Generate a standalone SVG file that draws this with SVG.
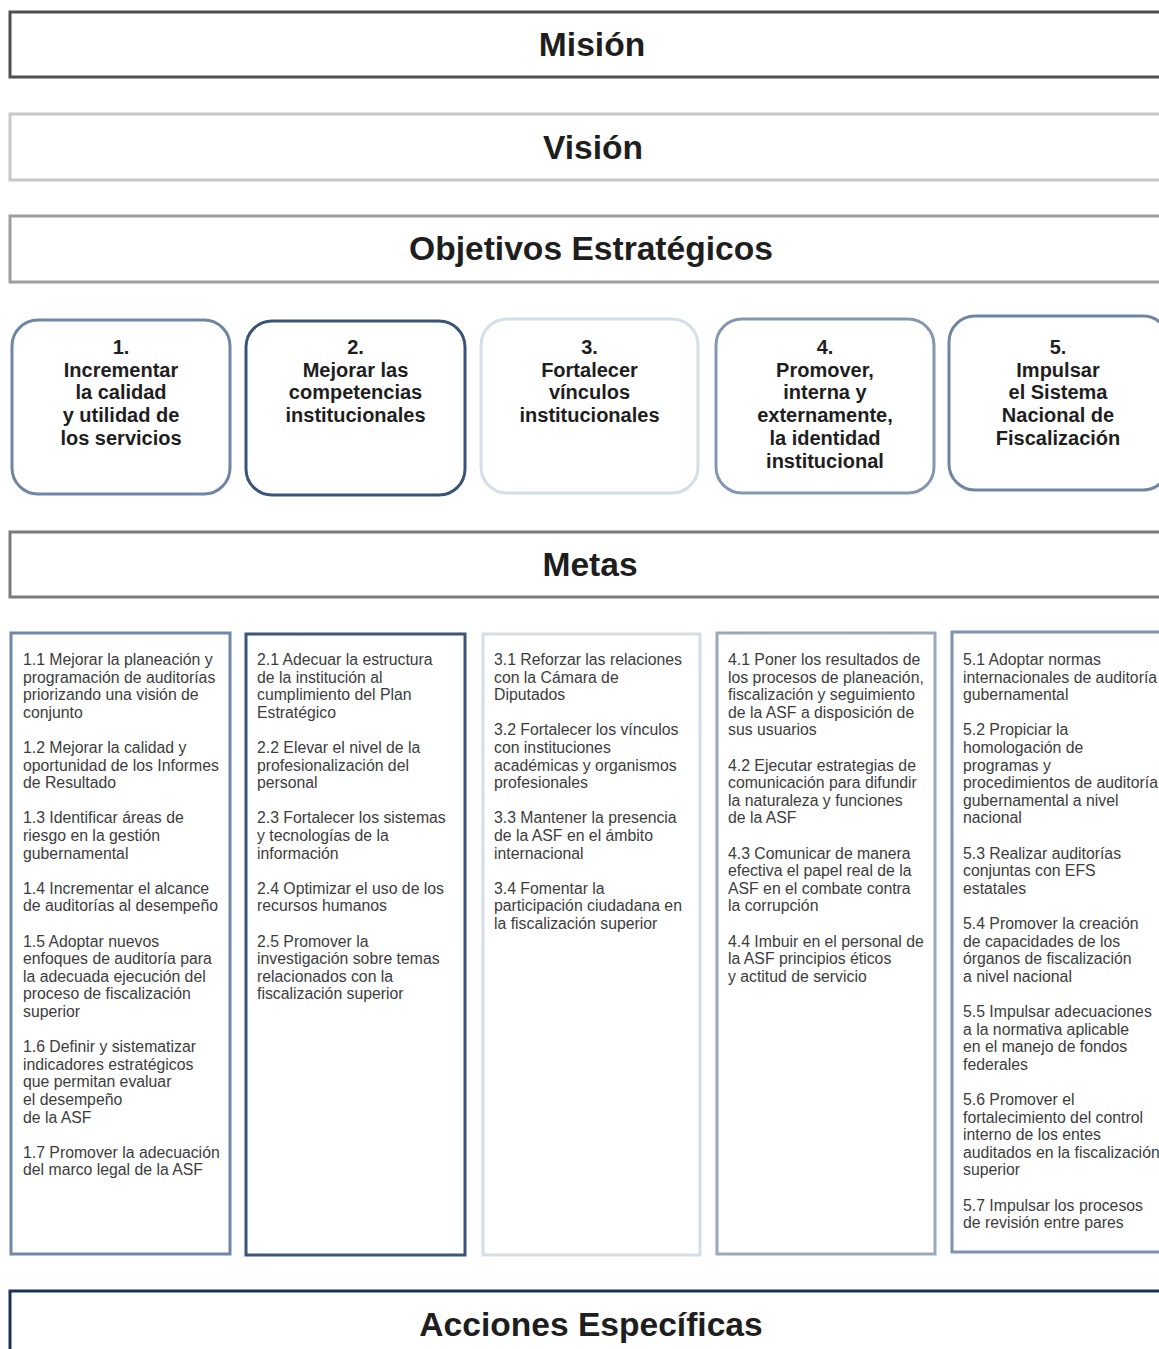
<svg xmlns="http://www.w3.org/2000/svg" width="1159" height="1349" viewBox="0 0 1159 1349">
  <style>
    .bar { fill: #ffffff; stroke-width: 3; }
    .title { font-family: "Liberation Sans", Arial, sans-serif; font-weight: bold; font-size: 33.6px; fill: #1e1e1e; text-anchor: middle; }
    .obj { fill: #ffffff; stroke-width: 3; }
    .objtxt { font-family: "Liberation Sans", Arial, sans-serif; font-weight: bold; font-size: 20px; fill: #1e1e1e; text-anchor: middle; }
    .meta { fill: #ffffff; stroke-width: 3; }
    .metatxt { font-family: "Liberation Sans", Arial, sans-serif; font-size: 15.8px; fill: #3c3c3c; }
  </style>
  <rect width="1159" height="1349" fill="#ffffff"/>

  <!-- Header bars -->
  <g id="mision">
    <rect class="bar" x="10" y="12" width="1165" height="65" stroke="#505050"/>
    <text class="title" x="592" y="56">Misión</text>
  </g>
  <g id="vision">
    <rect class="bar" x="10" y="114" width="1165" height="66" stroke="#c8c8c8"/>
    <text class="title" x="593" y="159">Visión</text>
  </g>
  <g id="objetivos">
    <rect class="bar" x="10" y="216" width="1165" height="66" stroke="#9e9e9e"/>
    <text class="title" x="591" y="260">Objetivos Estratégicos</text>
  </g>

  <!-- Strategic objectives -->
  <g id="obj1">
    <rect class="obj" x="12" y="320" width="218" height="174" rx="26" stroke="#6f86a5"/>
    <text class="objtxt" x="121" y="354">1.<tspan x="121" dy="22.7">Incrementar</tspan><tspan x="121" dy="22.7">la calidad</tspan><tspan x="121" dy="22.7">y utilidad de</tspan><tspan x="121" dy="22.7">los servicios</tspan></text>
  </g>
  <g id="obj2">
    <rect class="obj" x="246" y="321" width="219" height="174" rx="26" stroke="#3a5478"/>
    <text class="objtxt" x="355.5" y="354">2.<tspan x="355.5" dy="22.7">Mejorar las</tspan><tspan x="355.5" dy="22.7">competencias</tspan><tspan x="355.5" dy="22.7">institucionales</tspan></text>
  </g>
  <g id="obj3">
    <rect class="obj" x="481" y="319" width="217" height="174" rx="26" stroke="#d5dde8"/>
    <text class="objtxt" x="589.5" y="354">3.<tspan x="589.5" dy="22.7">Fortalecer</tspan><tspan x="589.5" dy="22.7">vínculos</tspan><tspan x="589.5" dy="22.7">institucionales</tspan></text>
  </g>
  <g id="obj4">
    <rect class="obj" x="716" y="319" width="218" height="174" rx="26" stroke="#8496b0"/>
    <text class="objtxt" x="825" y="354">4.<tspan x="825" dy="22.7">Promover,</tspan><tspan x="825" dy="22.7">interna y</tspan><tspan x="825" dy="22.7">externamente,</tspan><tspan x="825" dy="22.7">la identidad</tspan><tspan x="825" dy="22.7">institucional</tspan></text>
  </g>
  <g id="obj5">
    <rect class="obj" x="949" y="316" width="220" height="174" rx="26" stroke="#6f86a3"/>
    <text class="objtxt" x="1058" y="354">5.<tspan x="1058" dy="22.7">Impulsar</tspan><tspan x="1058" dy="22.7">el Sistema</tspan><tspan x="1058" dy="22.7">Nacional de</tspan><tspan x="1058" dy="22.7">Fiscalización</tspan></text>
  </g>

  <g id="metas">
    <rect class="bar" x="10" y="532" width="1165" height="65" stroke="#7a7a7a"/>
    <text class="title" x="590" y="576">Metas</text>
  </g>

  <!-- Goals per objective -->
  <g id="metas1">
    <rect class="meta" x="11" y="633" width="219" height="621" stroke="#7088a8"/>
    <text class="metatxt">
      <tspan x="23" y="665">1.1 Mejorar la planeación y</tspan>
      <tspan x="23" y="682.6">programación de auditorías</tspan>
      <tspan x="23" y="700.2">priorizando una visión de</tspan>
      <tspan x="23" y="717.8">conjunto</tspan>
      <tspan x="23" y="753">1.2 Mejorar la calidad y</tspan>
      <tspan x="23" y="770.6">oportunidad de los Informes</tspan>
      <tspan x="23" y="788.2">de Resultado</tspan>
      <tspan x="23" y="823.4">1.3 Identificar áreas de</tspan>
      <tspan x="23" y="841">riesgo en la gestión</tspan>
      <tspan x="23" y="858.6">gubernamental</tspan>
      <tspan x="23" y="893.8">1.4 Incrementar el alcance</tspan>
      <tspan x="23" y="911.4">de auditorías al desempeño</tspan>
      <tspan x="23" y="946.6">1.5 Adoptar nuevos</tspan>
      <tspan x="23" y="964.2">enfoques de auditoría para</tspan>
      <tspan x="23" y="981.8">la adecuada ejecución del</tspan>
      <tspan x="23" y="999.4">proceso de fiscalización</tspan>
      <tspan x="23" y="1017">superior</tspan>
      <tspan x="23" y="1052.2">1.6 Definir y sistematizar</tspan>
      <tspan x="23" y="1069.8">indicadores estratégicos</tspan>
      <tspan x="23" y="1087.4">que permitan evaluar</tspan>
      <tspan x="23" y="1105">el desempeño</tspan>
      <tspan x="23" y="1122.6">de la ASF</tspan>
      <tspan x="23" y="1157.8">1.7 Promover la adecuación</tspan>
      <tspan x="23" y="1175.4">del marco legal de la ASF</tspan>
    </text>
  </g>
  <g id="metas2">
    <rect class="meta" x="246" y="634" width="219" height="621" stroke="#3b5579"/>
    <text class="metatxt">
      <tspan x="257" y="665">2.1 Adecuar la estructura</tspan>
      <tspan x="257" y="682.6">de la institución al</tspan>
      <tspan x="257" y="700.2">cumplimiento del Plan</tspan>
      <tspan x="257" y="717.8">Estratégico</tspan>
      <tspan x="257" y="753">2.2 Elevar el nivel de la</tspan>
      <tspan x="257" y="770.6">profesionalización del</tspan>
      <tspan x="257" y="788.2">personal</tspan>
      <tspan x="257" y="823.4">2.3 Fortalecer los sistemas</tspan>
      <tspan x="257" y="841">y tecnologías de la</tspan>
      <tspan x="257" y="858.6">información</tspan>
      <tspan x="257" y="893.8">2.4 Optimizar el uso de los</tspan>
      <tspan x="257" y="911.4">recursos humanos</tspan>
      <tspan x="257" y="946.6">2.5 Promover la</tspan>
      <tspan x="257" y="964.2">investigación sobre temas</tspan>
      <tspan x="257" y="981.8">relacionados con la</tspan>
      <tspan x="257" y="999.4">fiscalización superior</tspan>
    </text>
  </g>
  <g id="metas3">
    <rect class="meta" x="483" y="634" width="217" height="621" stroke="#d5dde8"/>
    <text class="metatxt">
      <tspan x="494" y="665">3.1 Reforzar las relaciones</tspan>
      <tspan x="494" y="682.6">con la Cámara de</tspan>
      <tspan x="494" y="700.2">Diputados</tspan>
      <tspan x="494" y="735.4">3.2 Fortalecer los vínculos</tspan>
      <tspan x="494" y="753">con instituciones</tspan>
      <tspan x="494" y="770.6">académicas y organismos</tspan>
      <tspan x="494" y="788.2">profesionales</tspan>
      <tspan x="494" y="823.4">3.3 Mantener la presencia</tspan>
      <tspan x="494" y="841">de la ASF en el ámbito</tspan>
      <tspan x="494" y="858.6">internacional</tspan>
      <tspan x="494" y="893.8">3.4 Fomentar la</tspan>
      <tspan x="494" y="911.4">participación ciudadana en</tspan>
      <tspan x="494" y="929">la fiscalización superior</tspan>
    </text>
  </g>
  <g id="metas4">
    <rect class="meta" x="717" y="633" width="218" height="621" stroke="#9aa8bc"/>
    <text class="metatxt">
      <tspan x="728" y="665">4.1 Poner los resultados de</tspan>
      <tspan x="728" y="682.6">los procesos de planeación,</tspan>
      <tspan x="728" y="700.2">fiscalización y seguimiento</tspan>
      <tspan x="728" y="717.8">de la ASF a disposición de</tspan>
      <tspan x="728" y="735.4">sus usuarios</tspan>
      <tspan x="728" y="770.6">4.2 Ejecutar estrategias de</tspan>
      <tspan x="728" y="788.2">comunicación para difundir</tspan>
      <tspan x="728" y="805.8">la naturaleza y funciones</tspan>
      <tspan x="728" y="823.4">de la ASF</tspan>
      <tspan x="728" y="858.6">4.3 Comunicar de manera</tspan>
      <tspan x="728" y="876.2">efectiva el papel real de la</tspan>
      <tspan x="728" y="893.8">ASF en el combate contra</tspan>
      <tspan x="728" y="911.4">la corrupción</tspan>
      <tspan x="728" y="946.6">4.4 Imbuir en el personal de</tspan>
      <tspan x="728" y="964.2">la ASF principios éticos</tspan>
      <tspan x="728" y="981.8">y actitud de servicio</tspan>
    </text>
  </g>
  <g id="metas5">
    <rect class="meta" x="952" y="632" width="220" height="620" stroke="#7f93ad"/>
    <text class="metatxt">
      <tspan x="963" y="665">5.1 Adoptar normas</tspan>
      <tspan x="963" y="682.6">internacionales de auditoría</tspan>
      <tspan x="963" y="700.2">gubernamental</tspan>
      <tspan x="963" y="735.4">5.2 Propiciar la</tspan>
      <tspan x="963" y="753">homologación de</tspan>
      <tspan x="963" y="770.6">programas y</tspan>
      <tspan x="963" y="788.2">procedimientos de auditoría</tspan>
      <tspan x="963" y="805.8">gubernamental a nivel</tspan>
      <tspan x="963" y="823.4">nacional</tspan>
      <tspan x="963" y="858.6">5.3 Realizar auditorías</tspan>
      <tspan x="963" y="876.2">conjuntas con EFS</tspan>
      <tspan x="963" y="893.8">estatales</tspan>
      <tspan x="963" y="929">5.4 Promover la creación</tspan>
      <tspan x="963" y="946.6">de capacidades de los</tspan>
      <tspan x="963" y="964.2">órganos de fiscalización</tspan>
      <tspan x="963" y="981.8">a nivel nacional</tspan>
      <tspan x="963" y="1017">5.5 Impulsar adecuaciones</tspan>
      <tspan x="963" y="1034.6">a la normativa aplicable</tspan>
      <tspan x="963" y="1052.2">en el manejo de fondos</tspan>
      <tspan x="963" y="1069.8">federales</tspan>
      <tspan x="963" y="1105">5.6 Promover el</tspan>
      <tspan x="963" y="1122.6">fortalecimiento del control</tspan>
      <tspan x="963" y="1140.2">interno de los entes</tspan>
      <tspan x="963" y="1157.8">auditados en la fiscalización</tspan>
      <tspan x="963" y="1175.4">superior</tspan>
      <tspan x="963" y="1210.6">5.7 Impulsar los procesos</tspan>
      <tspan x="963" y="1228.2">de revisión entre pares</tspan>
    </text>
  </g>

  <g id="acciones">
    <rect class="bar" x="10" y="1291" width="1165" height="72" stroke="#1b3358"/>
    <text class="title" x="591" y="1336">Acciones Específicas</text>
  </g>

  <!-- No connectors are drawn between the tiers -->
  <g id="connectors"/>
</svg>
